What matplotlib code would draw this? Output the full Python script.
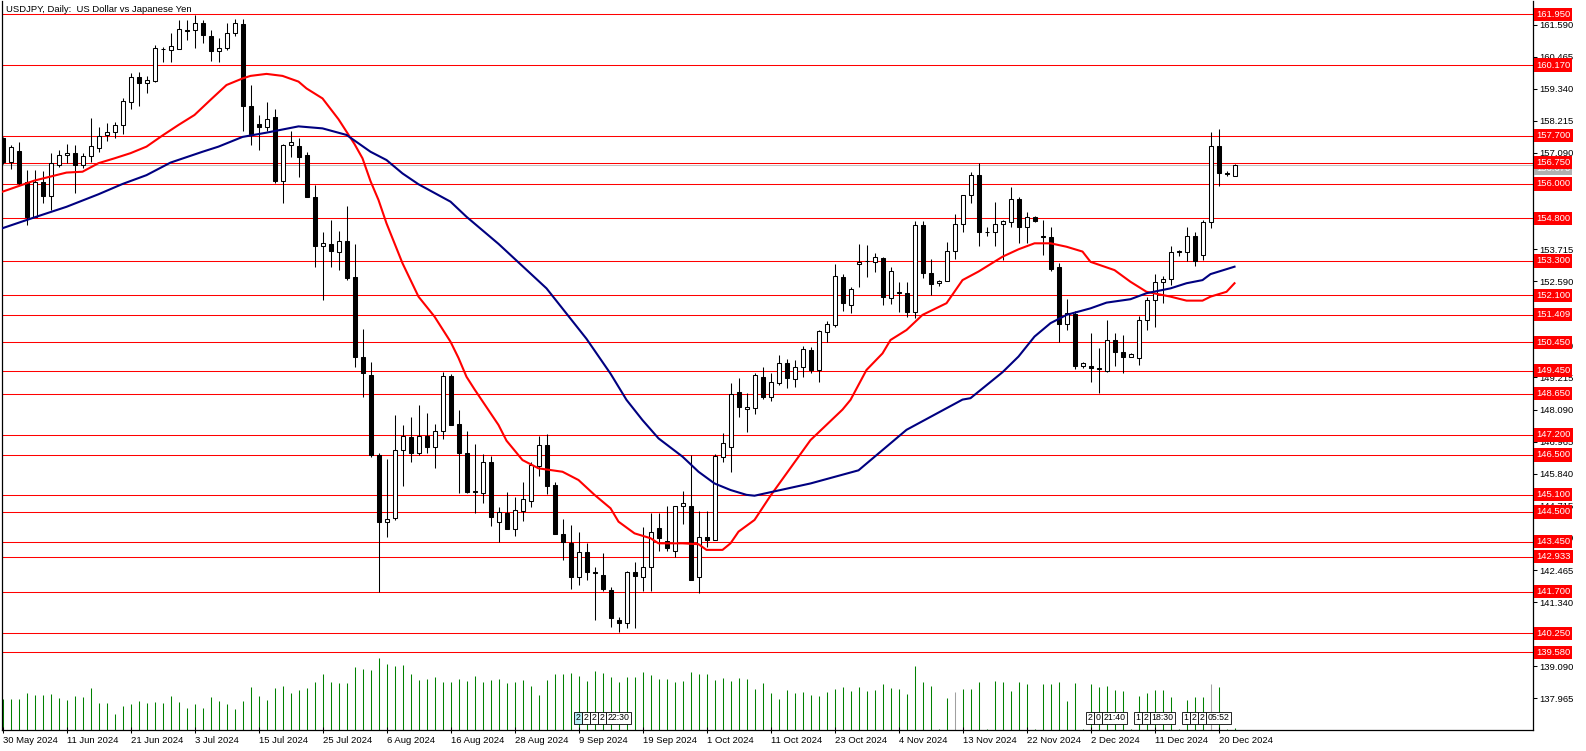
import numpy as np
import matplotlib
matplotlib.use('Agg')
import matplotlib.pyplot as plt
import matplotlib.transforms as mtransforms

plt.rcParams['font.family'] = ['Liberation Sans', 'DejaVu Sans']

# daily bars, 30 May 2024 .. 24 Dec 2024 (bar index 0..154)
opens = [157.62, 156.78, 157.16, 156.08, 154.83, 156.07, 155.59, 156.67, 157.00, 157.09,
         156.67, 156.99, 157.25, 157.72, 157.81, 158.06, 158.89, 159.74, 159.53, 159.62,
         160.72, 160.70, 160.72, 161.39, 161.39, 161.66, 161.19, 160.67, 160.76, 161.28,
         161.61, 158.74, 158.10, 158.01, 158.34, 156.12, 157.36, 157.34, 157.01, 155.53,
         153.83, 153.90, 153.63, 154.00, 152.73, 149.95, 149.30, 146.50, 144.14, 144.28,
         146.67, 147.12, 146.56, 147.16, 146.79, 147.33, 149.27, 147.59, 146.56, 145.22,
         145.15, 146.24, 144.16, 144.48, 143.89, 144.55, 144.90, 146.12, 146.84, 145.43,
         143.72, 143.42, 142.23, 143.08, 142.38, 142.29, 141.76, 140.71, 140.60, 142.38,
         142.23, 142.58, 143.93, 143.49, 143.14, 144.72, 144.72, 142.21, 143.63, 143.52,
         146.44, 146.79, 148.69, 148.10, 148.13, 149.24, 148.52, 149.01, 149.71, 149.16,
         149.59, 150.18, 149.48, 150.80, 151.06, 152.73, 151.76, 153.18, 153.31, 153.25,
         153.39, 151.99, 152.20, 152.17, 151.52, 154.56, 152.87, 152.52, 152.61, 153.65,
         154.59, 155.61, 156.32, 154.32, 154.31, 154.60, 154.68, 155.47, 154.50, 154.85,
         154.16, 154.13, 153.08, 151.09, 151.43, 149.63, 149.62, 149.56, 149.45, 150.53,
         150.10, 149.95, 149.89, 151.23, 151.93, 152.58, 152.66, 153.64, 153.63, 154.18,
         153.51, 154.68, 157.33, 156.39, 156.29]
highs = [157.66, 157.36, 157.46, 156.49, 156.49, 156.44, 157.07, 157.19, 157.39, 157.36,
         157.07, 158.30, 157.99, 158.13, 158.16, 159.00, 159.88, 159.94, 159.80, 160.89,
         160.80, 161.31, 161.75, 161.75, 161.93, 161.75, 161.40, 161.11, 161.63, 161.79,
         161.79, 159.47, 158.42, 158.86, 158.63, 157.40, 157.86, 157.60, 157.11, 155.97,
         154.31, 154.74, 154.35, 155.23, 153.90, 150.92, 149.77, 146.58, 146.35, 147.90,
         147.55, 147.82, 148.25, 147.98, 147.57, 149.40, 149.34, 148.08, 147.34, 146.88,
         146.52, 146.46, 144.69, 145.19, 145.04, 145.54, 146.24, 147.17, 147.23, 145.54,
         144.25, 144.04, 143.79, 143.40, 142.58, 143.05, 141.88, 140.80, 142.44, 142.73,
         143.98, 144.45, 144.45, 144.71, 144.72, 145.24, 146.48, 144.55, 144.53, 146.52,
         147.26, 149.01, 149.20, 148.66, 149.36, 149.57, 149.38, 150.00, 149.85, 149.83,
         150.33, 150.27, 150.88, 151.20, 153.19, 152.84, 152.40, 153.90, 153.86, 153.57,
         153.45, 153.08, 152.55, 152.55, 154.70, 154.70, 153.37, 152.63, 153.97, 154.95,
         155.61, 156.41, 156.75, 154.48, 155.38, 154.74, 155.88, 155.56, 155.01, 154.88,
         154.74, 154.50, 153.22, 151.97, 151.56, 149.77, 150.76, 150.24, 151.23, 150.76,
         150.70, 150.06, 151.37, 152.05, 152.85, 152.77, 153.83, 153.69, 154.50, 154.33,
         154.74, 157.81, 157.92, 156.46, 156.70]
lows = [156.70, 156.51, 155.95, 154.56, 154.83, 155.35, 155.09, 156.58, 156.72, 155.70,
        156.55, 156.76, 157.13, 157.51, 157.60, 157.75, 158.63, 158.75, 159.18, 159.59,
        160.27, 160.27, 160.72, 161.05, 160.76, 160.93, 160.32, 160.27, 160.70, 161.20,
        157.87, 157.37, 157.19, 157.87, 156.05, 155.35, 156.96, 156.26, 155.53, 153.10,
        151.93, 153.10, 152.98, 152.63, 149.60, 148.52, 146.42, 141.68, 143.61, 144.22,
        145.41, 146.26, 146.50, 146.58, 146.05, 147.05, 147.55, 145.18, 145.18, 144.45,
        144.80, 144.02, 143.46, 143.91, 143.67, 144.20, 144.66, 145.76, 145.12, 143.72,
        142.82, 141.79, 141.94, 142.11, 140.71, 141.74, 140.45, 140.28, 140.42, 140.42,
        141.73, 141.73, 143.13, 143.13, 142.91, 144.08, 142.11, 141.65, 143.28, 143.52,
        146.24, 145.91, 147.84, 147.32, 147.95, 148.45, 148.40, 148.95, 148.85, 148.87,
        149.24, 149.39, 149.07, 150.47, 150.97, 151.56, 151.47, 152.40, 152.75, 152.93,
        151.76, 151.78, 151.52, 151.32, 151.29, 152.69, 152.11, 152.44, 152.61, 153.37,
        154.33, 155.32, 153.84, 154.19, 153.84, 153.33, 154.50, 153.92, 153.94, 154.68,
        153.51, 152.96, 150.47, 150.88, 149.50, 149.56, 149.07, 148.66, 149.42, 149.63,
        149.36, 149.92, 149.65, 150.88, 150.99, 151.82, 152.46, 153.47, 153.30, 153.14,
        153.33, 154.45, 155.94, 156.29, 156.29]
closes = [156.78, 157.31, 156.02, 154.83, 156.07, 155.59, 156.74, 157.00, 157.09, 156.67,
          156.99, 157.32, 157.69, 157.83, 158.06, 158.91, 159.74, 159.53, 159.63, 160.76,
          160.75, 160.83, 161.42, 161.38, 161.66, 161.21, 160.67, 160.76, 161.28, 161.63,
          158.75, 157.75, 157.99, 158.27, 156.12, 157.37, 157.46, 156.96, 155.56, 153.84,
          153.92, 153.66, 154.00, 152.69, 149.95, 149.36, 146.50, 144.14, 144.27, 146.67,
          147.16, 146.58, 147.16, 146.79, 147.33, 149.27, 147.56, 146.55, 145.21, 145.20,
          146.24, 144.31, 144.51, 143.91, 144.57, 144.95, 146.15, 146.84, 145.42, 143.72,
          143.44, 142.23, 143.11, 142.41, 142.36, 141.80, 140.79, 140.60, 142.38, 142.27,
          142.58, 143.81, 143.60, 143.22, 144.72, 144.80, 142.11, 143.61, 143.52, 146.46,
          146.91, 148.64, 148.17, 148.17, 149.29, 148.54, 149.07, 149.74, 149.19, 149.59,
          150.20, 149.48, 150.85, 151.09, 152.77, 151.82, 152.31, 153.28, 153.30, 153.43,
          152.03, 152.96, 152.18, 151.52, 154.56, 152.87, 152.49, 152.61, 153.65, 154.59,
          155.61, 156.32, 154.31, 154.30, 154.59, 154.70, 155.47, 154.50, 154.83, 154.70,
          154.14, 153.02, 151.09, 151.46, 149.63, 149.71, 149.54, 149.50, 150.53, 150.10,
          149.95, 150.04, 151.23, 151.93, 152.58, 152.66, 153.63, 153.62, 154.18, 153.31,
          154.68, 157.33, 156.37, 156.36, 156.67]

# tick volume (thousands)
volumes = [31, 31, 31, 37, 35, 35, 36, 32, 30, 34, 33, 42, 27, 27, 16, 24, 26, 29, 27, 28,
           27, 34, 28, 22, 26, 22, 33, 29, 26, 21, 29, 43, 34, 30, 42, 44, 37, 40, 42, 48,
           56, 48, 47, 47, 63, 61, 60, 72, 66, 64, 65, 56, 50, 51, 53, 48, 48, 51, 49, 54,
           48, 50, 51, 47, 48, 50, 44, 35, 50, 56, 56, 57, 54, 49, 59, 57, 53, 48, 53, 53,
           58, 55, 51, 51, 48, 49, 58, 56, 56, 50, 52, 49, 52, 51, 41, 47, 37, 31, 40, 37,
           38, 35, 34, 38, 41, 43, 39, 43, 39, 40, 46, 42, 41, 36, 64, 48, 44, 1, 32, 38,
           41, 41, 48, 1, 49, 48, 39, 48, 46, 1, 46, 46, 48, 29, 47, 1, 46, 43, 44, 40,
           39, 1, 34, 37, 40, 40, 33, 1, 30, 33, 33, 46, 43, 1, 2]
gray_volume_bars = [119, 151]

# moving averages (bar index, value)
ma_fast_idx = [0, 4, 6, 8, 10, 12, 14, 16, 18, 20, 22, 24, 26, 28, 30, 31, 33, 35, 37, 38,
               40, 42, 44, 45, 46, 47, 48, 50, 52, 54, 56, 57, 58, 59, 62, 63, 65, 67, 70, 72,
               74, 76, 77, 79, 81, 82, 85, 87, 88, 90, 91, 92, 94, 96, 101, 105, 106, 108, 110, 111,
               113, 115, 118, 120, 122, 125, 127, 129, 131, 133, 135, 136, 139, 141, 143, 146, 148, 150, 151, 153,
               154]
ma_fast_val = [155.73, 156.12, 156.26, 156.40, 156.43, 156.73, 156.90, 157.08, 157.31, 157.70,
               158.07, 158.42, 158.95, 159.47, 159.70, 159.79, 159.86, 159.79, 159.59, 159.35,
               159.00, 158.27, 157.40, 156.90, 156.10, 155.44, 154.62, 153.22, 152.05, 151.35,
               150.47, 149.90, 149.24, 148.80, 147.55, 147.00, 146.32, 146.03, 145.91, 145.62,
               145.10, 144.63, 144.16, 143.75, 143.58, 143.40, 143.40, 143.37, 143.17, 143.17,
               143.40, 143.81, 144.22, 145.07, 147.02, 148.09, 148.43, 149.48, 150.06, 150.53,
               150.88, 151.41, 151.82, 152.63, 152.93, 153.45, 153.71, 153.92, 153.92, 153.80,
               153.63, 153.27, 152.98, 152.57, 152.22, 152.05, 151.91, 151.91, 152.05, 152.22,
               152.52]
ma_slow_idx = [0, 4, 8, 12, 15, 18, 21, 25, 27, 30, 33, 37, 40, 43, 46, 48, 50, 52, 56, 58,
               62, 68, 73, 76, 78, 80, 82, 85, 87, 89, 91, 93, 94, 101, 107, 113, 120, 121, 125, 127,
               129, 131, 133, 136, 138, 141, 143, 146, 148, 150, 151, 154]
ma_slow_val = [154.45, 154.83, 155.20, 155.64, 156.00, 156.31, 156.75, 157.13, 157.31, 157.65,
               157.80, 158.02, 157.95, 157.72, 157.13, 156.84, 156.37, 155.99, 155.38, 154.85,
               153.90, 152.34, 150.57, 149.35, 148.43, 147.72, 147.08, 146.44, 145.91, 145.50,
               145.27, 145.10, 145.07, 145.50, 145.96, 147.38, 148.44, 148.49, 149.40, 149.95,
               150.65, 151.12, 151.41, 151.64, 151.84, 151.96, 152.17, 152.34, 152.52, 152.63,
               152.84, 153.10]

levels = [161.950, 160.170, 157.700, 156.750, 156.000, 154.800, 153.300, 152.100, 151.409,
          150.450, 149.450, 148.650, 147.200, 146.500, 145.100, 144.500, 143.450, 142.933,
          141.700, 140.250, 139.580]
bid = 156.67

date_labels = ['30 May 2024', '11 Jun 2024', '21 Jun 2024', '3 Jul 2024', '15 Jul 2024',
               '25 Jul 2024', '6 Aug 2024', '16 Aug 2024', '28 Aug 2024', '9 Sep 2024',
               '19 Sep 2024', '1 Oct 2024', '11 Oct 2024', '23 Oct 2024', '4 Nov 2024',
               '13 Nov 2024', '22 Nov 2024', '2 Dec 2024', '11 Dec 2024', '20 Dec 2024']
date_bars = list(range(0, 153, 8))

price_ticks = [137.965, 139.090, 140.215, 141.340, 142.465, 143.590, 144.715, 145.840,
               146.965, 148.090, 149.215, 150.340, 151.465, 152.590, 153.715, 154.840,
               155.965, 157.090, 158.215, 159.340, 160.465, 161.590]
# these scale labels sit fully under a level label in the terminal
covered_ticks = [140.215, 151.465, 154.840, 155.965]

event_bars = [72, 73, 74, 75, 76, 136, 137, 138, 142, 143, 144, 148, 149, 150, 151]
event_text = ['2', '2', '2', '2', '22:30', '2', '0', '21:40', '1', '2', '18:30',
              '1', '2', '2', '05:52']

W, H = 1586, 751
fig = plt.figure(figsize=(W / 100, H / 100), dpi=100)
rect = [2 / W, 21 / H, 1531 / W, 729 / H]

# volume sits under the price axes
vax = fig.add_axes(rect)
vax.set_xlim(-0.0625, 191.31)
vax.set_ylim(0, 729)
vax.axis('off')
bars = np.arange(len(volumes))
vcol = ['#a0a0a0' if b in gray_volume_bars else '#008000' for b in bars]
vax.vlines(bars, 0, volumes, colors=vcol, linewidth=0.75)

ax = fig.add_axes(rect)
ax.patch.set_visible(False)
ax.set_xlim(-0.0625, 191.31)
ax.set_ylim(136.855, 162.416)

for lv in levels:
    ax.axhline(lv, color='#ff0000', linewidth=0.75, zorder=1)
ax.axhline(bid, color='#c0c0c0', linewidth=0.75, zorder=1)

o = np.array(opens)
c = np.array(closes)
x = np.arange(len(o))
ax.vlines(x, lows, highs, color='black', linewidth=0.75, zorder=2)
body_lo = np.minimum(o, c)
body_h = np.maximum(np.abs(c - o), 0.005)
face = ['white' if cc >= oo else 'black' for oo, cc in zip(o, c)]
ax.bar(x, body_h, bottom=body_lo, width=0.5, color=face, edgecolor='black',
       linewidth=0.75, zorder=2.5)

ax.plot(ma_fast_idx, ma_fast_val, color='#ff0000', linewidth=1.5, zorder=3)
ax.plot(ma_slow_idx, ma_slow_val, color='#000080', linewidth=1.5, zorder=3)

# axes styling
for side in ['top', 'left', 'right', 'bottom']:
    ax.spines[side].set_linewidth(0.9)
    ax.spines[side].set_color('black')
ax.spines['top'].set_visible(False)
ax.yaxis.tick_right()
ax.set_yticks(price_ticks)
ax.set_yticklabels(['' if t in covered_ticks else '%.3f' % t for t in price_ticks])
ax.tick_params(axis='y', direction='out', length=3, width=0.75, pad=1.5,
               labelsize=6.8, colors='black')
ax.set_xticks(date_bars)
ax.set_xticklabels(date_labels)
ax.tick_params(axis='x', direction='inout', length=5, width=0.75, pad=1.5, labelsize=6.8)
for lbl in ax.get_xticklabels():
    lbl.set_horizontalalignment('left')

trans = mtransforms.blended_transform_factory(ax.transAxes, ax.transData)
ax.text(1.002, bid - 0.12, '%.3f' % bid, transform=trans, fontsize=6.8, color='white',
        va='center', ha='left', clip_on=False, zorder=4,
        bbox=dict(boxstyle='square,pad=0.22', fc='#b0b0b0', ec='none'))
for lv in levels:
    ax.text(1.002, lv, '%.3f' % lv, transform=trans, fontsize=6.8, color='white',
            va='center', ha='left', clip_on=False, zorder=5,
            bbox=dict(boxstyle='square,pad=0.22', fc='#ff0000', ec='none'))

ax.text(0.0026, 0.988, 'USDJPY, Daily:  US Dollar vs Japanese Yen', transform=ax.transAxes,
        fontsize=6.8, va='center', ha='left', zorder=6)

etrans = mtransforms.blended_transform_factory(ax.transData, ax.transAxes)
for i, (b, t) in enumerate(zip(event_bars, event_text)):
    fc = '#b8eef5' if i == 0 else 'white'
    ax.text(b - 0.35, 0.0165, t, transform=etrans, fontsize=6.3, va='center', ha='left',
            zorder=6, bbox=dict(boxstyle='square,pad=0.15', fc=fc, ec='black', lw=0.6))

fig.savefig('out.png', dpi=100, facecolor='white')
